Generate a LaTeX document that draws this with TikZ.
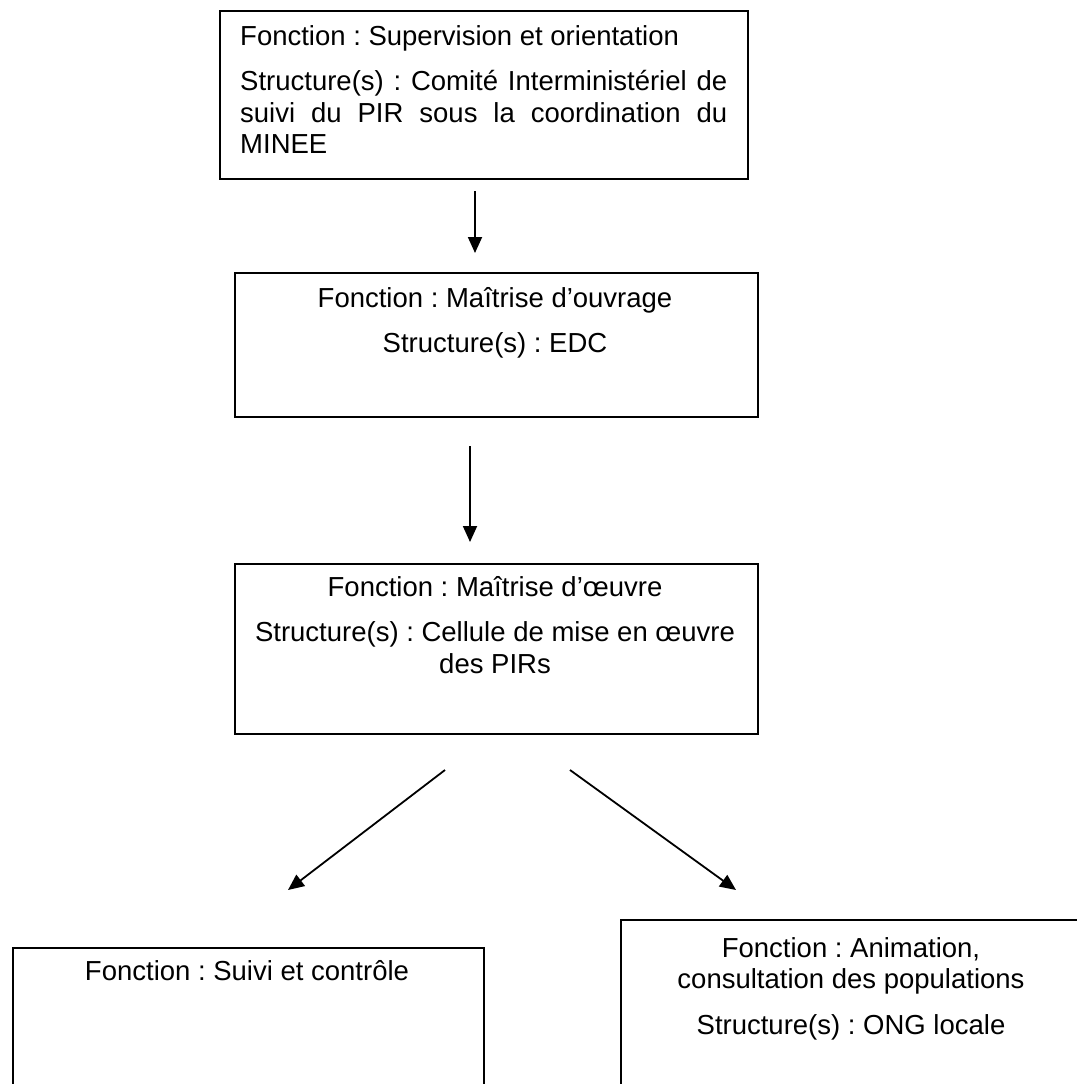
\documentclass[tikz,border=0pt]{standalone}
\usepackage{fontspec}
\setmainfont{Liberation Sans}
\usetikzlibrary{arrows.meta}
\frenchspacing
\begin{document}
\begin{tikzpicture}[x=1pt,y=-1pt,
  box/.style={draw, line width=1.8pt, rectangle, anchor=north west, inner sep=0pt},
  txt/.style={inner sep=0pt, font=\fontsize{27.5}{31.5}\selectfont\frenchspacing},
  arr/.style={line width=1.8pt, -{Triangle[length=16pt,width=14pt]}}]
\useasboundingbox (0,0) rectangle (1076,1084);
% boxes
\node[box, minimum width=528pt, minimum height=168pt] (b1) at (219,10) {};
\node[box, minimum width=523pt, minimum height=144pt] (b2) at (234,272) {};
\node[box, minimum width=523pt, minimum height=170pt] (b3) at (234,563) {};
\node[box, minimum width=471pt, minimum height=170pt] (b4) at (12,947) {};
\node[box, minimum width=471pt, minimum height=200pt] (b5) at (620,919) {};
% texts
\node[txt, anchor=north west, text width=487pt, align=justify] (t1) at (240,25)
  {Fonction : Supervision et orientation\par\vspace{14pt}
   Structure(s) : Comité Interministériel de\linebreak suivi du PIR sous la coordination du\linebreak MINEE};
\node[txt, anchor=north, align=center] (t2) at (495,287)
  {Fonction : Maîtrise d’ouvrage\\[14pt] Structure(s) : EDC};
\node[txt, anchor=north, align=center] (t3) at (495,576)
  {Fonction : Maîtrise d’œuvre\\[14pt] Structure(s) : Cellule de mise en œuvre\\ des PIRs};
\node[txt, anchor=north, align=center] (t4) at (247,960)
  {Fonction : Suivi et contrôle};
\node[txt, anchor=north, align=center] (t5) at (851,937)
  {Fonction : Animation,\\ consultation des populations\\[14pt] Structure(s) : ONG locale};
% arrow endpoints
\coordinate (a1s) at (475,191); \coordinate (a1e) at (475,253);
\coordinate (a2s) at (470,446); \coordinate (a2e) at (470,542);
\coordinate (a3s) at (445,770); \coordinate (a3e) at (288,890);
\coordinate (a4s) at (570,770); \coordinate (a4e) at (736,890);
\draw[arr] (a1s) -- (a1e);
\draw[arr] (a2s) -- (a2e);
\draw[arr] (a3s) -- (a3e);
\draw[arr] (a4s) -- (a4e);
\end{tikzpicture}
\end{document}
